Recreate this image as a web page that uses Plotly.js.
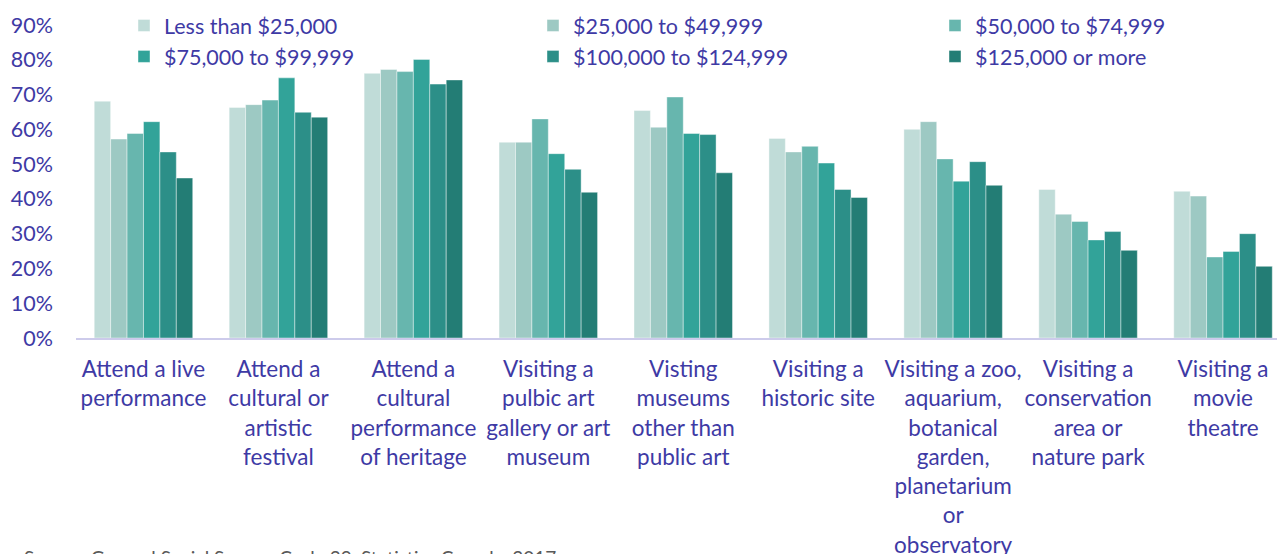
<!DOCTYPE html>
<html>
<head>
<meta charset="utf-8">
<script src="https://cdn.plot.ly/plotly-3.0.1.min.js"></script>
<style>
  html, body { margin: 0; padding: 0; background: #fff; }
  #chart { width: 1277px; height: 554px; }
</style>
</head>
<body>
<div id="chart"></div>
<script>
// activities (tick labels keep the line breaks of the original)
let activities = [
    "Attend a live<br>performance",
    "Attend a<br>cultural or<br>artistic<br>festival",
    "Attend a<br>cultural<br>performance<br>of heritage",
    "Visiting a<br>pulbic art<br>gallery or art<br>museum",
    "Visting<br>museums<br>other than<br>public art",
    "Visiting a<br>historic site",
    "Visiting a zoo,<br>aquarium,<br>botanical<br>garden,<br>planetarium<br>or<br>observatory",
    "Visiting a<br>conservation<br>area or<br>nature park",
    "Visiting a<br>movie<br>theatre"
];

// share of people (%) by household income
let lessThan25k   = [68.1, 66.3, 76.1, 56.3, 65.4, 57.4, 60.0, 42.7, 42.2];
let from25to49k   = [57.2, 67.1, 77.2, 56.3, 60.6, 53.5, 62.2, 35.6, 40.8];
let from50to74k   = [58.8, 68.4, 76.6, 63.0, 69.3, 55.1, 51.5, 33.5, 23.3];
let from75to99k   = [62.2, 74.8, 80.1, 53.0, 58.8, 50.3, 45.1, 28.2, 24.9];
let from100to124k = [53.5, 64.9, 73.0, 48.5, 58.5, 42.7, 50.7, 30.6, 30.0];
let over125k      = [46.0, 63.5, 74.2, 41.9, 47.5, 40.4, 43.9, 25.2, 20.6];

let incomeNames = ["Less than $25,000", "$25,000 to $49,999", "$50,000 to $74,999",
                   "$75,000 to $99,999", "$100,000 to $124,999", "$125,000 or more"];
let incomeColors = ['rgb(192,220,216)', 'rgb(157,201,195)', 'rgb(103,182,174)',
                    'rgb(50,163,153)', 'rgb(44,143,136)', 'rgb(35,125,117)'];
// three legend columns, two rows each
let legendOf = ['legend', 'legend2', 'legend3', 'legend', 'legend2', 'legend3'];

let series = [lessThan25k, from25to49k, from50to74k, from75to99k, from100to124k, over125k];

const textColor = 'rgb(62,58,165)';
const fontName = 'Lato, "Open Sans", sans-serif';

let traces = series.map((vals, i) => ({
    x: activities,
    y: vals.map(v => v / 100),
    name: incomeNames[i],
    type: 'bar',
    marker: {
        color: incomeColors[i],
        line: { color: 'rgba(255,255,255,0.6)', width: 0.7 }
    },
    legend: legendOf[i],
    hoverinfo: 'x+y+name'
}));

function legendAt(xPx) {
    return {
        xref: 'container', yref: 'container',
        x: xPx / 1277, y: 1 - 5 / 554,
        xanchor: 'left', yanchor: 'top',
        orientation: 'v',
        bgcolor: 'rgba(0,0,0,0)',
        font: { family: fontName, size: 21.5, color: textColor },
        tracegroupgap: 0,
        itemwidth: 30
    };
}

let layout = {
    width: 1277,
    height: 554,
    margin: { l: 76, r: 0, t: 25, b: 216, autoexpand: false },
    paper_bgcolor: '#fff',
    plot_bgcolor: '#fff',
    font: { family: fontName, size: 20, color: textColor },
    barmode: 'group',
    bargap: 0.27,
    bargroupgap: 0,
    showlegend: true,
    legend: legendAt(124),
    legend2: legendAt(533),
    legend3: legendAt(935),
    xaxis: {
        range: [-0.5, 8.4],
        tickangle: 0,
        showline: true,
        linecolor: 'rgb(205,203,235)',
        linewidth: 2,
        ticks: '',
        showgrid: false,
        zeroline: false,
        automargin: false,
        ticklabelstandoff: 10,
        tickfont: { family: fontName, size: 22.5, color: textColor }
    },
    yaxis: {
        range: [0, 0.9],
        dtick: 0.1,
        tickformat: '.0%',
        showgrid: false,
        zeroline: false,
        showline: false,
        ticks: '',
        automargin: false,
        ticklabelstandoff: 22,
        tickfont: { family: fontName, size: 21.5, color: textColor }
    },
    annotations: [{
        text: 'Source: General Social Survey, Cycle 29, Statistics Canada, 2017',
        xref: 'paper', yref: 'paper',
        x: -54 / 1201, y: -0.70,
        xanchor: 'left', yanchor: 'middle',
        showarrow: false,
        font: { family: fontName, size: 19, color: 'rgb(89,89,89)' }
    }]
};

const config = {
    displayModeBar: false,
    staticPlot: true
};

Plotly.newPlot('chart', traces, layout, config);
</script>
</body>
</html>
